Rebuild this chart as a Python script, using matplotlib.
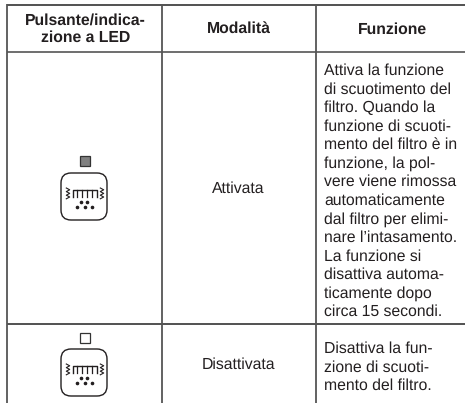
import matplotlib
matplotlib.use('Agg')
from matplotlib import pyplot as plt
from matplotlib.patches import FancyBboxPatch, Rectangle

plt.rcParams['font.family'] = ['Liberation Sans', 'DejaVu Sans']
plt.rcParams['text.hinting'] = 'no_hinting'

headers = ['Pulsante/indica-\nzione a LED', 'Modalità', 'Funzione']
modes = ['Attivata', 'Disattivata']
functions = [
    ['Attiva la funzione', 'di scuotimento del', 'filtro. Quando la',
     'funzione di scuoti-', 'mento del filtro è in', 'funzione, la pol-',
     'vere viene rimossa', 'automaticamente', 'dal filtro per elimi-',
     'nare l’intasamento.', 'La funzione si', 'disattiva automa-',
     'ticamente dopo', 'circa 15 secondi.'],
    ['Disattiva la fun-', 'zione di scuoti-', 'mento del filtro.'],
]
led_colors = ['#808080', 'white']

ink = '#231f20'
font_size = 11.3
line_step = 18.55

fig = plt.figure(figsize=(4.65, 4.03), dpi=100)
ax = fig.add_axes([0, 0, 1, 1])
ax.set_xlim(0, 465)
ax.set_ylim(403, 0)
ax.axis('off')


def draw_icon(top, led_top, led_color):
    ax.add_patch(Rectangle((79.5, led_top), 10, 10, fc=led_color, ec='#333333', lw=0.9))
    ax.add_patch(FancyBboxPatch((70, top + 9), 28, 29,
                                boxstyle='round,pad=9,rounding_size=10',
                                fc='white', ec=ink, lw=1.0))
    # comb of the filter
    y0 = top + 17
    y1 = top + 24
    ax.plot([72.5, 72.5, 96.5, 96.5], [y1, y0, y0, y1], color=ink, lw=1.0)
    for x in [77, 82, 87, 92]:
        ax.plot([x, x], [y0, y1], color=ink, lw=0.9)
    # vibration marks
    for x in [68, 102]:
        xs = []
        ys = []
        for i in range(7):
            xs.append(x + (1.7 if i % 2 else -1.7))
            ys.append(top + 15 + i * 1.8)
        ax.plot(xs, ys, color=ink, lw=0.8)
    # dust
    ax.plot([81, 87], [top + 29, top + 29], ls='', marker='o', ms=1.6, color=ink)
    ax.plot([77, 84.5, 92], [top + 34, top + 34, top + 34], ls='', marker='o', ms=1.6, color=ink)


# table rules
for y, c in [(4.5, '#333333'), (52, '#555555'), (323.5, '#333333')]:
    ax.plot([7, 465], [y, y], color=c, lw=1.2, solid_capstyle='butt')
for x in [7, 161.5, 316]:
    ax.plot([x, x], [4, 403], color='#555555', lw=1.3, solid_capstyle='butt')

# header row
ax.text(85.5, 29.5, headers[0], ha='center', va='center', fontsize=font_size,
        fontweight='bold', color=ink, linespacing=1.2)
ax.text(238.5, 29, headers[1], ha='center', va='center', fontsize=font_size,
        fontweight='bold', color=ink)
ax.text(393, 30, headers[2], ha='center', va='center', fontsize=font_size,
        fontweight='bold', color=ink)

# body rows
ax.text(238.5, 189, modes[0], ha='center', va='center', fontsize=font_size, color=ink)
ax.text(238.5, 365, modes[1], ha='center', va='center', fontsize=font_size, color=ink)

for i, line in enumerate(functions[0]):
    ax.text(324, 75 + i * line_step, line, ha='left', va='baseline', fontsize=font_size, color=ink)
for i, line in enumerate(functions[1]):
    ax.text(324, 353 + i * line_step, line, ha='left', va='baseline', fontsize=font_size, color=ink)

draw_icon(173, 156, led_colors[0])
draw_icon(349, 333, led_colors[1])

fig.savefig('out.png', dpi=100)
